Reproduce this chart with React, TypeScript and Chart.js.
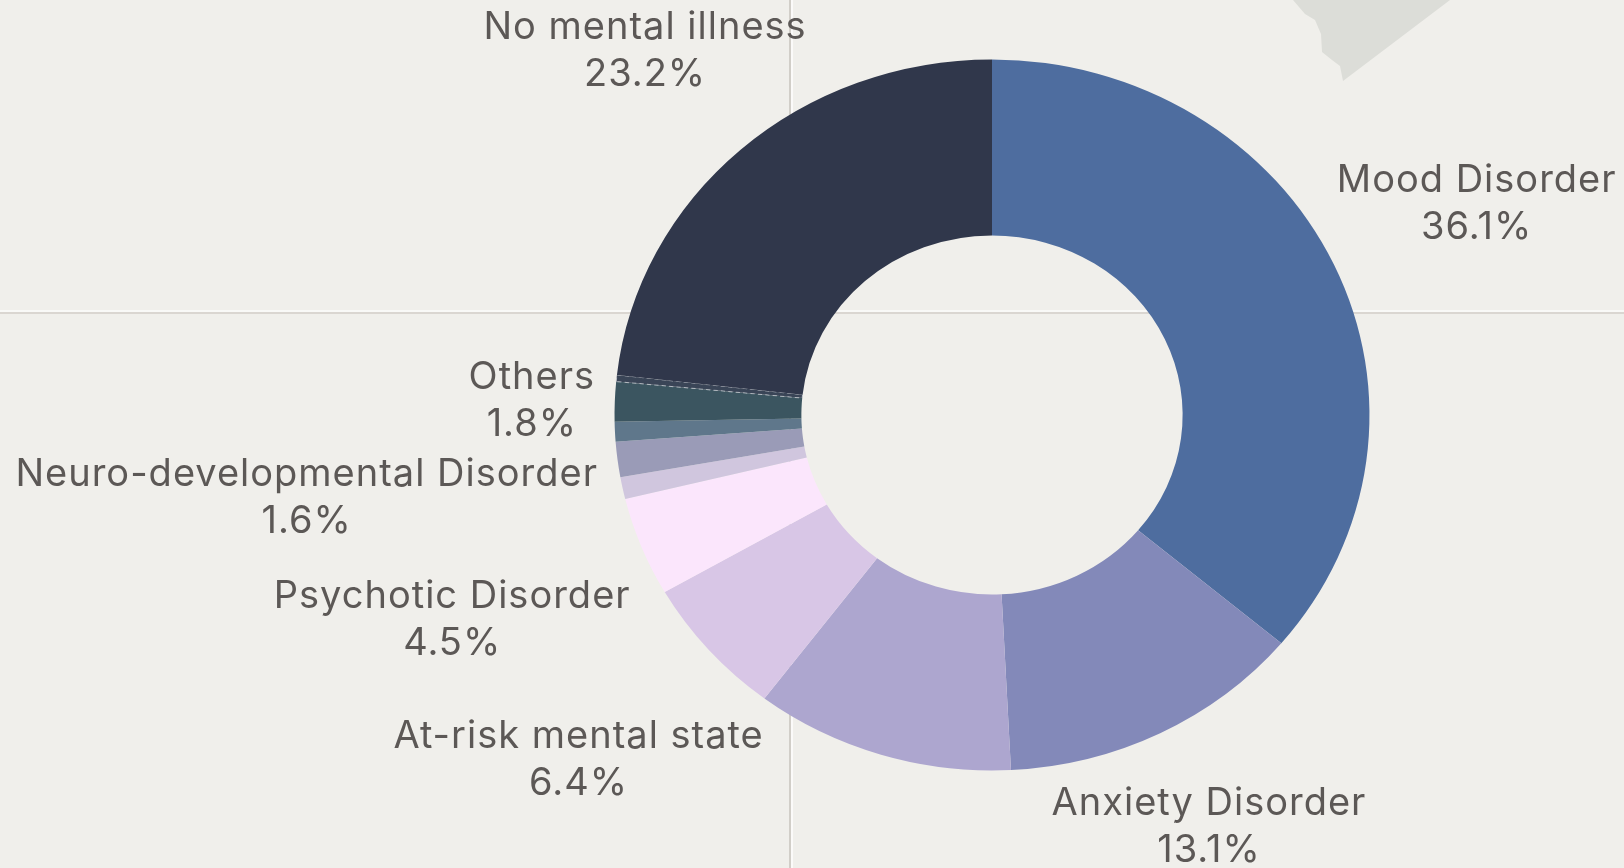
import React, { useEffect, useRef } from "react";
import { Chart, registerables } from "chart.js";

Chart.register(...registerables);

// ---- data ----
const categories: string[] = [
  "Mood Disorder",
  "Anxiety Disorder",
  "",
  "At-risk mental state",
  "Psychotic Disorder",
  "",
  "Neuro-developmental Disorder",
  "",
  "Others",
  "",
  "No mental illness",
];
const values: number[] = [36.1, 13.1, 11.1, 6.4, 4.5, 1.0, 1.6, 0.9, 1.8, 0.3, 23.2];

// ---- style ----
const colors: string[] = [
  "#4e6d9f",
  "#8389b9",
  "#ada6cf",
  "#d8c6e6",
  "#fbe6fc",
  "#d0c6de",
  "#9a9bb7",
  "#5f778b",
  "#3b5560",
  "#3a4557",
  "#30374b",
];
const borderWidths: number[] = [0, 0, 0, 0, 0, 0, 0, 0, 0, 1, 0];
const labelDistance: number[] = [1.417, 1.29, 0, 1.46, 1.54, 0, 1.83, 0, 1.22, 0, 1.38];
const SX = 378 / 356; // horizontal stretch of the ring
const FONT = "38px Inter, 'Noto Sans', sans-serif";
const LETTER_SPACING = "1px";
const TEXT_COLOR = "#5c5856";
const LINE_GAP = 47;

const ellipsePlugin = {
  id: "ellipse",
  beforeDatasetsDraw(chart: any) {
    const arc = chart.getDatasetMeta(0).data[0];
    if (!arc) return;
    const { x, y } = arc.getProps(["x", "y"], true);
    const ctx = chart.ctx;
    ctx.save();
    ctx.translate(x, y);
    ctx.scale(SX, 1);
    ctx.translate(-x, -y);
  },
  afterDatasetsDraw(chart: any) {
    chart.ctx.restore();
  },
};

const labelPlugin = {
  id: "outerLabels",
  afterDraw(chart: any) {
    const ctx = chart.ctx;
    const meta = chart.getDatasetMeta(0);
    ctx.save();
    ctx.font = FONT;
    try {
      (ctx as any).letterSpacing = LETTER_SPACING;
    } catch (e) {}
    ctx.fillStyle = TEXT_COLOR;
    ctx.textAlign = "center";
    ctx.textBaseline = "middle";
    meta.data.forEach((arc: any, i: number) => {
      const name = categories[i];
      if (!name) return;
      const { x, y, startAngle, endAngle, outerRadius } = arc.getProps(
        ["x", "y", "startAngle", "endAngle", "outerRadius"],
        true
      );
      const mid = (startAngle + endAngle) / 2;
      const f = labelDistance[i];
      const px = x + Math.cos(mid) * outerRadius * f * SX;
      const py = y + Math.sin(mid) * outerRadius * f + 2;
      ctx.fillText(name, px, py - LINE_GAP / 2);
      ctx.fillText(values[i].toFixed(1) + "%", px, py + LINE_GAP / 2);
    });
    ctx.restore();
  },
};

export default function App() {
  const ref = useRef<HTMLCanvasElement | null>(null);

  useEffect(() => {
    if (!ref.current) return;
    const chart = new Chart(ref.current, {
      type: "doughnut",
      data: {
        labels: categories,
        datasets: [
          {
            data: values,
            backgroundColor: colors,
            borderWidth: borderWidths,
            borderColor: "rgba(205,210,215,0.75)",
            borderDash: [4, 3],
          } as any,
        ],
      },
      options: {
        responsive: false,
        animation: false,
        devicePixelRatio: 1,
        cutout: "50.5%",
        layout: { padding: { left: 636, right: 276, top: 59, bottom: 97 } },
        plugins: {
          legend: { display: false },
          tooltip: { enabled: false },
        },
      },
      plugins: [ellipsePlugin, labelPlugin],
    });
    return () => chart.destroy();
  }, []);

  return (
    <div
      style={{
        position: "fixed",
        left: 0,
        top: 0,
        width: 1624,
        height: 868,
        background: "#f0efeb",
        overflow: "hidden",
      }}
    >
      {/* paper fold lines */}
      <div
        style={{
          position: "absolute",
          left: 789,
          top: 0,
          width: 2,
          height: 868,
          background: "rgba(140,130,120,0.3)",
          boxShadow: "2px 0 0 rgba(255,255,255,0.7)",
        }}
      />
      <div
        style={{
          position: "absolute",
          left: 0,
          top: 312,
          width: 1624,
          height: 2,
          background: "rgba(150,140,130,0.25)",
          boxShadow: "0 -2px 0 rgba(255,255,255,0.6)",
        }}
      />
      {/* torn tape */}
      <div
        style={{
          position: "absolute",
          left: 1285,
          top: 0,
          width: 170,
          height: 85,
          background: "#dcddd8",
          clipPath:
            "polygon(8px 0, 165px 0, 58px 81px, 55px 66px, 47px 60px, 37px 52px, 36px 34px, 30px 20px, 20px 14px)",
        }}
      />
      <canvas
        ref={ref}
        width={1624}
        height={868}
        style={{ position: "absolute", left: 0, top: 0, width: 1624, height: 868 }}
      />
    </div>
  );
}
